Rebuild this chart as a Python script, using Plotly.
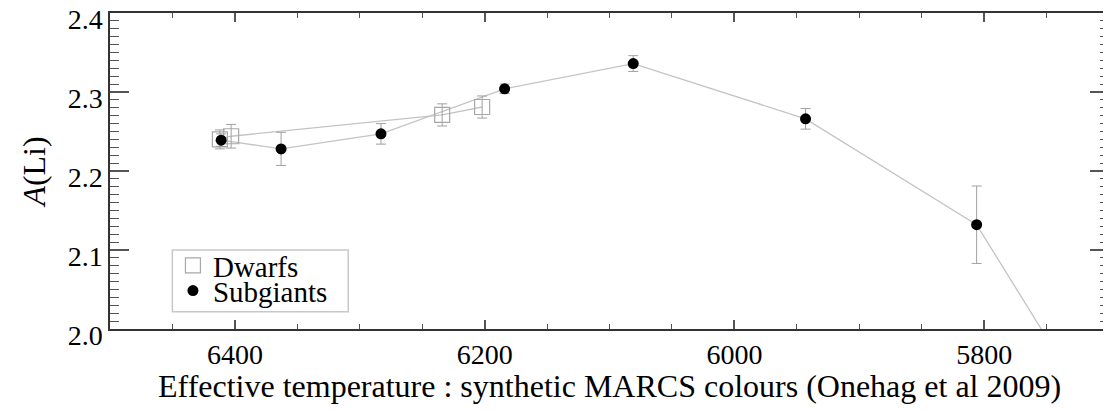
import plotly.graph_objects as go

# Subgiants (filled circles)
sub_teff = [6411, 6363, 6283, 6184, 6081, 5943, 5806, 5690]
sub_ali = [2.239, 2.228, 2.247, 2.304, 2.336, 2.266, 2.132, 1.836]
sub_err = [0.008, 0.021, 0.013, 0.006, 0.010, 0.013, 0.049, 0.0]

# Dwarfs (open squares)
dw_teff = [6412, 6403, 6234, 6202]
dw_ali = [2.240, 2.244, 2.271, 2.281]
dw_err = [0.012, 0.015, 0.014, 0.014]

x_ticks = [6400, 6200, 6000, 5800]
y_ticks = [2.0, 2.1, 2.2, 2.3, 2.4]

FONT = "Liberation Serif, DejaVu Serif, Times New Roman, serif"
LINE_C = "#c4c4c4"
ERR_C = "#a0a0a0"

fig = go.Figure()

# connecting lines
fig.add_trace(go.Scatter(x=dw_teff, y=dw_ali, mode="lines",
                         line=dict(color=LINE_C, width=1.3), showlegend=False, hoverinfo="skip"))
fig.add_trace(go.Scatter(x=sub_teff, y=sub_ali, mode="lines",
                         line=dict(color=LINE_C, width=1.3), showlegend=False, hoverinfo="skip"))

# dwarfs
fig.add_trace(go.Scatter(
    x=dw_teff, y=dw_ali, mode="markers", name="Dwarfs", legend="legend",
    marker=dict(symbol="square-open", size=15, color="#a8a8a8", line=dict(width=1.2, color="#a8a8a8")),
    error_y=dict(type="data", array=dw_err, visible=True, color=ERR_C, thickness=1, width=5),
))

# subgiants
fig.add_trace(go.Scatter(
    x=sub_teff, y=sub_ali, mode="markers", name="Subgiants", legend="legend2",
    marker=dict(symbol="circle", size=11, color="black"),
    error_y=dict(type="data", array=sub_err, visible=True, color=ERR_C, thickness=1, width=5),
))

axis_common = dict(
    showgrid=False, zeroline=False, showline=True, linecolor="#333", linewidth=1.5,
    mirror="ticks", ticks="inside", tickcolor="#555", tickwidth=1.5, automargin=False,
    tickfont=dict(family=FONT, size=28, color="black"), ticklabeloverflow="allow",
)

fig.update_xaxes(
    range=[6500, 5700], tickvals=x_ticks, ticktext=[str(v) for v in x_ticks],
    ticklen=9, minor=dict(dtick=50, ticks="inside", ticklen=5, tickcolor="#555", tickwidth=1),
    ticklabelstandoff=0,
    **axis_common,
)
fig.update_yaxes(
    range=[2.0, 2.4], tickvals=y_ticks, ticktext=["2.0", "2.1", "2.2", "2.3", "2.4"],
    ticklen=19, minor=dict(dtick=0.01, ticks="inside", ticklen=9, tickcolor="#555", tickwidth=1),
    ticklabelshift=6,
    title=dict(text="<i>A</i>(Li)", font=dict(family=FONT, size=32, color="black"), standoff=12),
    **axis_common,
)

# x-axis title as text below the tick labels
fig.add_annotation(
    text="Effective temperature : synthetic MARCS colours (Onehag et al 2009)",
    xref="paper", yref="paper", x=0.5, y=-0.18, xanchor="center", yanchor="middle",
    showarrow=False, font=dict(family=FONT, size=32, color="black"),
)

# legend frame
fig.add_shape(type="rect", xref="paper", yref="paper",
              x0=0.0624, x1=0.2385, y0=0.0547, y1=0.25,
              line=dict(color="#c8c8c8", width=1.5), fillcolor="white", layer="above")

leg_common = dict(xanchor="left", yanchor="middle", borderwidth=0, bgcolor="rgba(0,0,0,0)",
                  font=dict(family=FONT, size=29, color="black"), itemwidth=30)

fig.update_layout(
    width=1103, height=402,
    margin=dict(l=102, r=2, t=5, b=81),
    paper_bgcolor="white", plot_bgcolor="white",
    legend=dict(x=0.063, y=0.201, **leg_common),
    legend2=dict(x=0.063, y=0.121, **leg_common),
)

fig.write_html("out.html")
